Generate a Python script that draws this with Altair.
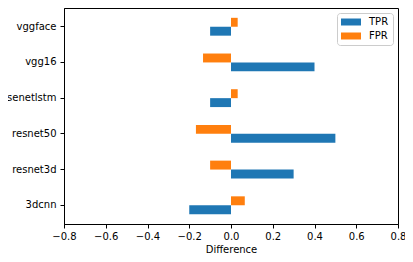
import altair as alt
import pandas as pd

models = ["vggface", "vgg16", "senetlstm", "resnet50", "resnet3d", "3dcnn"]
tpr = [-0.10, 0.40, -0.10, 0.50, 0.30, -0.20]
fpr = [0.032, -0.134, 0.032, -0.168, -0.10, 0.066]
series = ["TPR", "FPR"]
colors = ["#1f77b4", "#ff7f0e"]
x_ticks = [-0.8, -0.6, -0.4, -0.2, 0.0, 0.2, 0.4, 0.6, 0.8]

rows = []
for m, t, f in zip(models, tpr, fpr):
    rows.append({"model": m, "series": "TPR", "value": t})
    rows.append({"model": m, "series": "FPR", "value": f})
df = pd.DataFrame(rows)

FONT = "DejaVu Sans"

chart = alt.Chart(df).mark_bar().encode(
    y=alt.Y("model:N", sort=models, title=None,
            scale=alt.Scale(paddingInner=0.5, paddingOuter=0.275),
            axis=alt.Axis(labelFontSize=10, labelFont=FONT, labelColor="black",
                          tickSize=4, tickColor="black", labelPadding=4,
                          domainColor="black", grid=False)),
    yOffset=alt.YOffset("series:N", sort=["FPR", "TPR"],
                        scale=alt.Scale(paddingInner=0, paddingOuter=0)),
    x=alt.X("value:Q", title="Difference",
            scale=alt.Scale(domain=[-0.8, 0.8], nice=False, zero=False),
            axis=alt.Axis(values=x_ticks, format=".1f",
                          labelExpr="replace(datum.label, '-', '\u2212')",
                          labelFontSize=10, labelFont=FONT, labelColor="black",
                          titleFontSize=10, titleFont=FONT, titleFontWeight="normal",
                          titleColor="black", titlePadding=3,
                          tickSize=4, tickColor="black", labelPadding=3,
                          domainColor="black", grid=False, labelFlush=False)),
    color=alt.Color("series:N", sort=series,
                    scale=alt.Scale(domain=series, range=colors),
                    legend=alt.Legend(title=None, orient="top-right", offset=5,
                                      symbolType="M-1,-0.7H3V0.7H-1Z",
                                      symbolSize=100, symbolStrokeWidth=0,
                                      labelFontSize=10, labelFont=FONT,
                                      labelColor="black", labelOffset=18,
                                      strokeColor="#cccccc", fillColor="white",
                                      cornerRadius=3, padding=4, rowPadding=4)),
).properties(
    width=334, height=216,
    autosize=alt.AutoSizeParams(type="none"),
    padding={"left": 56, "top": 0, "right": 7, "bottom": 38},
).configure_view(stroke="black", strokeWidth=1)

chart.save("out.html", embed_options={"renderer": "svg", "actions": False})
